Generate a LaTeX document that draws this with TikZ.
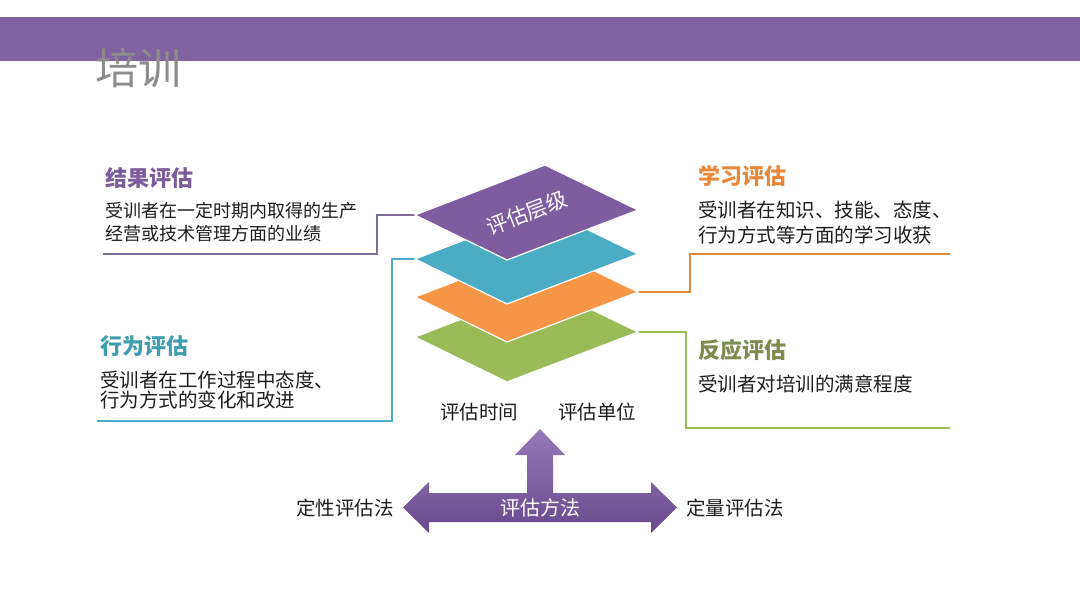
\documentclass[tikz,border=0pt]{standalone}
\usepackage{fontspec}
\setmainfont{Noto Sans CJK SC}
\definecolor{bannerc}{HTML}{7F63A1}
\definecolor{purpc}{HTML}{7E5C9F}
\definecolor{cyanc}{HTML}{4BACC6}
\definecolor{orangec}{HTML}{F79646}
\definecolor{greenc}{HTML}{9BBB59}
\definecolor{purpline}{HTML}{7E6D99}
\definecolor{orangeline}{HTML}{E48A35}
\definecolor{hpurp}{HTML}{7A5E9B}
\definecolor{horange}{HTML}{E8883A}
\definecolor{hcyan}{HTML}{3E9DAE}
\definecolor{hgreen}{HTML}{7B8C4E}
\definecolor{bodyc}{HTML}{1E1E1E}
\definecolor{titlec}{HTML}{8C8C8C}
\definecolor{arrtop}{HTML}{9579B6}
\definecolor{arrbot}{HTML}{674A8C}
\begin{document}
\begin{tikzpicture}[x=1pt,y=-1pt,
  layer/.style={draw=white,line width=1.2pt,line join=miter},
  conn/.style={line width=2.2pt},
  head/.style={inner sep=0pt,anchor=base west,font=\fontsize{22}{26}\selectfont\bfseries},
  body/.style={inner sep=0pt,anchor=base west,text=bodyc,font=\fontsize{19.5}{24}\selectfont},
  smallbody/.style={inner sep=0pt,anchor=base west,text=bodyc,font=\fontsize{18}{22}\selectfont},
  lab/.style={inner sep=0pt,text=bodyc,font=\fontsize{19.5}{24}\selectfont}]
\useasboundingbox (0,0) rectangle (1080,608);
\fill[white] (0,0) rectangle (1080,608);
% banner
\fill[bannerc] (0,17) rectangle (1080,61);
\node[inner sep=0pt,anchor=base west,text=titlec,font=\fontsize{43}{48}\selectfont] (title) at (95,84) {培训};
% layer coordinates
\coordinate (pL) at (415,215); \coordinate (pT) at (545,165); \coordinate (pR) at (638,210); \coordinate (pB) at (507,260);
\coordinate (cL) at (415,259); \coordinate (cT) at (545,209); \coordinate (cR) at (638,254); \coordinate (cB) at (507,304);
\coordinate (oL) at (415,297); \coordinate (oT) at (545,247); \coordinate (oR) at (638,292); \coordinate (oB) at (507,342);
\coordinate (gL) at (415,337); \coordinate (gT) at (545,287); \coordinate (gR) at (638,332); \coordinate (gB) at (507,382);
% connector ends
\coordinate (e1) at (103,254);
\coordinate (e2) at (950,254);
\coordinate (e3) at (97,421);
\coordinate (e4) at (950,428);
% connectors
\draw[conn,purpline] (pL) -- (377,215) |- (e1);
\draw[conn,cyanc] (cL) -- (392,259) |- (e3);
\draw[conn,orangeline] (oR) -- (690,292) |- (e2);
\draw[conn,greenc] (gR) -- (686,332) |- (e4);
% layers
\fill[greenc,layer] (gL) -- (gT) -- (gR) -- (gB) -- cycle;
\fill[orangec,layer] (oL) -- (oT) -- (oR) -- (oB) -- cycle;
\fill[cyanc,layer] (cL) -- (cT) -- (cR) -- (cB) -- cycle;
\fill[purpc,layer] (pL) -- (pT) -- (pR) -- (pB) -- cycle;
\node[inner sep=0pt,text=white,rotate=21,font=\fontsize{21}{24}\selectfont] (lvl) at (527,213) {评估层级};
% texts
\node[head,text=hpurp] (h1) at (105,186.5) {结果评估};
\node[smallbody] (t1a) at (105,217) {受训者在一定时期内取得的生产};
\node[smallbody] (t1b) at (105,240) {经营或技术管理方面的业绩};
\node[head,text=horange] (h2) at (698,184.5) {学习评估};
\node[body] (t2a) at (698,217.5) {受训者在知识、技能、态度、};
\node[body] (t2b) at (698,242.5) {行为方式等方面的学习收获};
\node[head,text=hcyan] (h3) at (100,354.5) {行为评估};
\node[body] (t3a) at (100,387.5) {受训者在工作过程中态度、};
\node[body] (t3b) at (100,407.5) {行为方式的变化和改进};
\node[head,text=hgreen] (h4) at (698,358.5) {反应评估};
\node[body] (t4) at (698,391.5) {受训者对培训的满意程度};
\node[lab,anchor=base] (time) at (479,419.5) {评估时间};
\node[lab,anchor=base] (unit) at (597,419.5) {评估单位};
% arrow
\shade[top color=arrtop,bottom color=arrbot]
  (403,507.5) -- (429,482) -- (429,493) -- (527,493) -- (527,455) -- (515,455)
  -- (540,429) -- (565,455) -- (553,455) -- (553,493) -- (651,493) -- (651,482)
  -- (677,507.5) -- (651,533) -- (651,522) -- (429,522) -- (429,533) -- cycle;
\node[lab,anchor=base,text=white,font=\fontsize{20}{24}\selectfont] (meth) at (540,515) {评估方法};
\node[lab,anchor=base east] (qual) at (394,515.5) {定性评估法};
\node[lab,anchor=base west] (quan) at (686,515.5) {定量评估法};
\end{tikzpicture}
\end{document}
